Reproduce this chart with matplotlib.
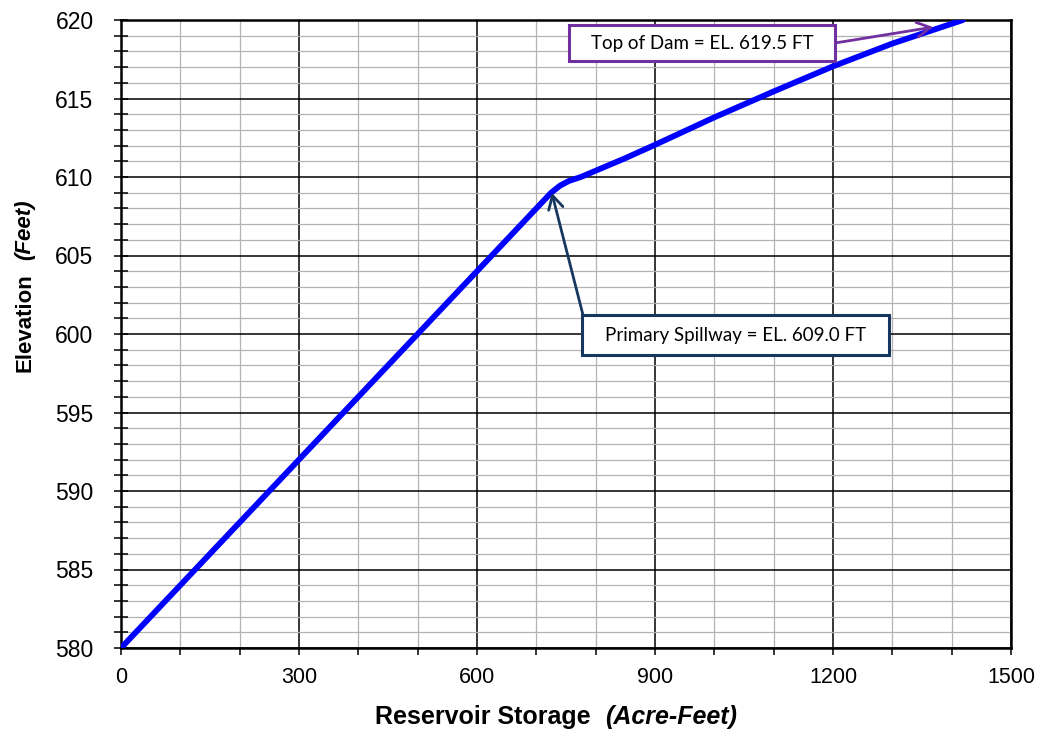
import matplotlib
matplotlib.use("Agg")
import matplotlib.pyplot as plt
from matplotlib.ticker import MultipleLocator
from matplotlib.patches import Rectangle

# ---- data ----
storage = [0, 125, 250, 375, 500, 600, 700, 725, 740, 755, 775, 800, 850, 900, 1000, 1100, 1200, 1300, 1419]
elevation = [580, 585, 590, 595, 600, 604, 608, 609.0, 609.45, 609.75, 610.0, 610.4, 611.2, 612.05,
             613.8, 615.45, 617.05, 618.5, 620]

x_ticks = [0, 300, 600, 900, 1200, 1500]
y_ticks = [580, 585, 590, 595, 600, 605, 610, 615, 620]

spill_label = 'Primary Spillway = EL. 609.0 FT'
spill_point = (726, 609.0)
dam_label = 'Top of Dam = EL. 619.5 FT'
dam_point = (1369, 619.55)

W, H = 1039, 734
plt.rcParams['font.family'] = ['Liberation Sans', 'DejaVu Sans']

fig = plt.figure(figsize=(W / 100, H / 100), dpi=100)


def fx(px):
    return px / W


def fy(py):
    return 1 - py / H


ax = fig.add_axes([fx(121), fy(648), (1011 - 121) / W, (648 - 20) / H])

ax.set_xlim(0, 1500)
ax.set_ylim(580, 620)
ax.set_xticks(x_ticks)
ax.set_yticks(y_ticks)
ax.xaxis.set_minor_locator(MultipleLocator(100))
ax.yaxis.set_minor_locator(MultipleLocator(1))

ax.grid(which='minor', color='#b3b3b3', linewidth=0.9)
ax.grid(which='major', color='black', linewidth=1.1)
ax.set_axisbelow(True)
for s in ax.spines.values():
    s.set_linewidth(1.8)
    s.set_color('black')

ax.tick_params(axis='x', which='both', direction='out', length=5, width=1.1, labelsize=15.5, pad=8.5)
ax.tick_params(axis='y', which='both', direction='inout', length=9.5, width=1.1, labelsize=16.5, pad=15)

ax.plot(storage, elevation, color='#0000ff', linewidth=4.2, solid_capstyle='round',
        solid_joinstyle='round', zorder=3)

# ---- annotation boxes ----
def box(x0, y0, x1, y1, color, text):
    fig.patches.append(Rectangle((fx(x0), fy(y1)), (x1 - x0) / W, (y1 - y0) / H,
                                 transform=fig.transFigure, fc='white', ec=color, lw=2.2, zorder=5))
    fig.text(fx((x0 + x1) / 2), fy((y0 + y1) / 2), text, ha='center', va='center',
             fontsize=13.5, family=['Lato', 'DejaVu Sans'], color='black', zorder=6)


arrow_kw = dict(arrowstyle='->,head_length=0.6,head_width=0.33', lw=2, mutation_scale=16,
                shrinkA=0, shrinkB=0)
ax.annotate('', xy=spill_point, xycoords='data', xytext=(fx(583), fy(315)),
            textcoords='figure fraction', arrowprops=dict(color='#17375e', **arrow_kw), zorder=4)
ax.annotate('', xy=dam_point, xycoords='data', xytext=(fx(835), fy(43)),
            textcoords='figure fraction', arrowprops=dict(color='#7030a0', **arrow_kw), zorder=4)

box(582, 315, 889, 355, '#17375e', spill_label)
box(569, 25, 835, 61, '#7030a0', dam_label)

# ---- axis titles ----
fig.canvas.draw()
r = fig.canvas.get_renderer()

fig.text(fx(375), fy(724), 'Reservoir Storage', fontsize=18, fontweight='bold', ha='left', va='baseline')
fig.text(fx(605), fy(724), '(Acre-Feet)', fontsize=18, fontweight='bold', fontstyle='italic',
         ha='left', va='baseline')

t2 = fig.text(fx(30), fy(372), 'Elevation', fontsize=16, fontweight='bold', rotation=90,
              ha='left', va='baseline', rotation_mode='anchor')
ext = t2.get_window_extent(renderer=r)
top_px = H - ext.y1
fig.text(fx(30), fy(top_px - 13), '(Feet)', fontsize=16, fontweight='bold', fontstyle='italic',
         rotation=90, ha='left', va='baseline', rotation_mode='anchor')

fig.savefig('out.png', dpi=100)
